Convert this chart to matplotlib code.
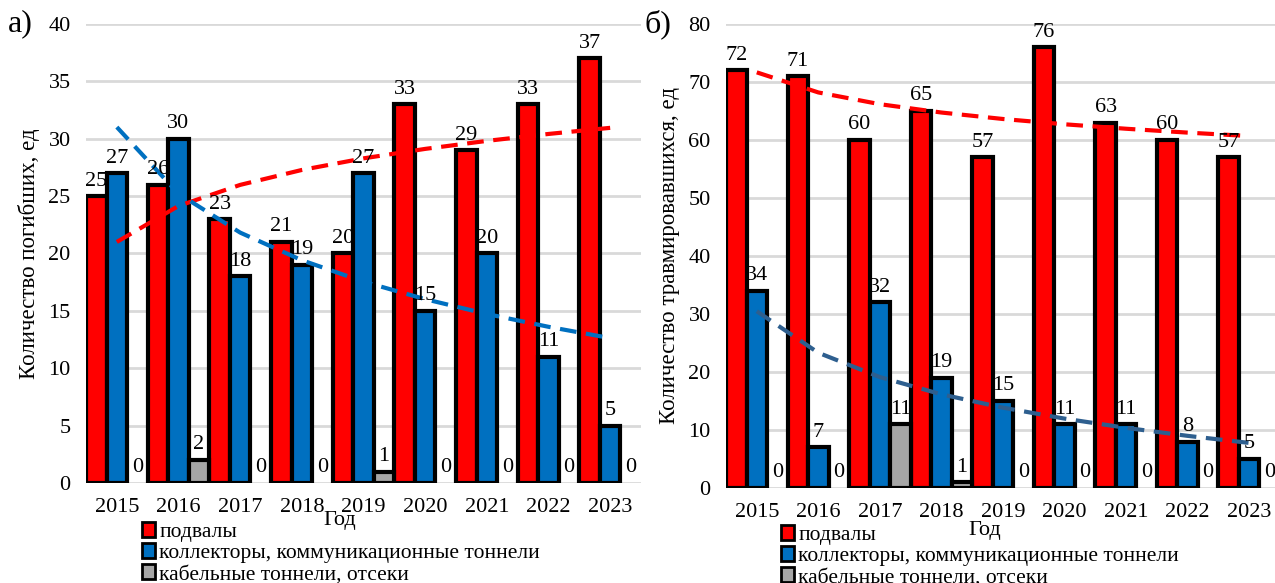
import numpy as np
import matplotlib
matplotlib.use('Agg')
import matplotlib.pyplot as plt
from matplotlib.patches import Patch

plt.rcParams['font.family'] = ['Liberation Serif', 'DejaVu Serif']

# Data
years = ['2015', '2016', '2017', '2018', '2019', '2020', '2021', '2022', '2023']

# a) killed
dead_basements = [25, 26, 23, 21, 20, 33, 29, 33, 37]
dead_collectors = [27, 30, 18, 19, 27, 15, 20, 11, 5]
dead_cables = [0, 2, 0, 0, 1, 0, 0, 0, 0]

# b) injured
inj_basements = [72, 71, 60, 65, 57, 76, 63, 60, 57]
inj_collectors = [34, 7, 32, 19, 15, 11, 11, 8, 5]
inj_cables = [0, 0, 11, 1, 0, 0, 0, 0, 0]

labels = ['подвалы', 'коллекторы, коммуникационные тоннели', 'кабельные тоннели, отсеки']
colors = ['#ff0000', '#0070c0', '#a6a6a6']

fig = plt.figure(figsize=(12.75, 5.83), dpi=100)
W, H = 1275, 583


def ax_rect(x0, x1, y_top, y_bot):
    return [x0 / W, 1 - y_bot / H, (x1 - x0) / W, (y_bot - y_top) / H]


def log_trend(vals):
    # logarithmic trend line, same as in Excel
    x = np.arange(1, len(vals) + 1)
    b, a = np.polyfit(np.log(x), vals, 1)
    return a + b * np.log(x)


def draw_panel(ax, series, ymax, ystep, ylabel, trend_colors):
    n = len(years)
    xs = np.arange(n)
    w = 1 / 3
    for k, vals in enumerate(series):
        pos = xs + w * (k + 0.5)
        lws = [0 if v == 0 else 3 for v in vals]
        ax.bar(pos, vals, width=w, color=colors[k], edgecolor='black',
               linewidth=lws, zorder=3)
        for p, v in zip(pos, vals):
            ax.annotate(str(v), (p, v), xytext=(0, 4), textcoords='offset points',
                        ha='center', va='bottom', fontsize=16, zorder=5)
    for k, c in enumerate(trend_colors):
        ax.plot(xs + 0.5, log_trend(series[k]), color=c, lw=3,
                linestyle=(0, (4, 2.3)), zorder=4)
    ax.set_xlim(0, n)
    ax.set_ylim(0, ymax)
    ax.set_yticks(np.arange(0, ymax + 1, ystep))
    ax.set_xticks(xs + 0.5)
    ax.set_xticklabels(years)
    ax.yaxis.grid(True, color='#d9d9d9', lw=2, zorder=0)
    ax.set_axisbelow(True)
    for s in ax.spines.values():
        s.set_visible(False)
    ax.tick_params(length=0, labelsize=16)
    ax.tick_params(axis='y', pad=11)
    ax.tick_params(axis='x', pad=11)
    ax.set_ylabel(ylabel, fontsize=16.5, labelpad=6)


ax1 = fig.add_axes(ax_rect(86, 641, 24, 483))
draw_panel(ax1, [dead_basements, dead_collectors, dead_cables], 40, 5,
           'Количество погибших, ед', ['#ff0000', '#0070c0'])
ax2 = fig.add_axes(ax_rect(726, 1280, 24, 488))
draw_panel(ax2, [inj_basements, inj_collectors, inj_cables], 80, 10,
           'Количество травмировавшихся, ед', ['#ff0000', '#2e5f8f'])

fig.text(8 / W, 1 - 24 / H, 'а)', fontsize=23, va='center', ha='left')
fig.text(645 / W, 1 - 24 / H, 'б)', fontsize=23, va='center', ha='left')

fig.text(340 / W, 1 - 521 / H, 'Год', fontsize=16, ha='center', va='center')
fig.text(985 / W, 1 - 530 / H, 'Год', fontsize=16, ha='center', va='center')

handles = [Patch(facecolor=c, edgecolor='black', linewidth=2) for c in colors]
for x0, y0 in [(142, 522), (781, 525)]:
    fig.legend(handles, labels, loc='upper left',
               bbox_to_anchor=(x0 / W, 1 - y0 / H), frameon=False,
               fontsize=15.5, handlelength=0.6, handleheight=0.7,
               handletextpad=0.2, labelspacing=0.05, borderaxespad=0,
               borderpad=0)

fig.savefig('out.png', dpi=100)
